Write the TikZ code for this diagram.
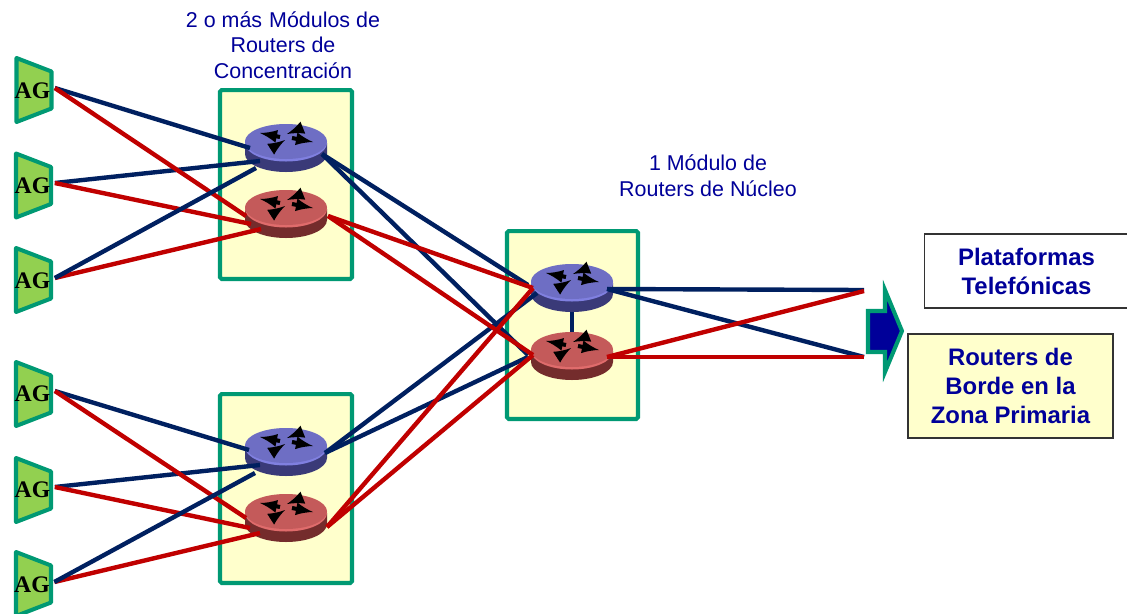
\documentclass[tikz,border=0pt]{standalone}
\usepackage{fontspec}
\setmainfont{Liberation Sans}
\newfontfamily\agfont{Liberation Serif}
\usepackage{tikz}
\definecolor{bordergreen}{HTML}{009973}
\definecolor{boxyellow}{HTML}{FFFFCC}
\definecolor{aggreen}{HTML}{92D050}
\definecolor{labelblue}{HTML}{000099}
\definecolor{linkblue}{HTML}{002060}
\definecolor{linkred}{HTML}{C00000}
\definecolor{rbtop}{HTML}{6E6EC4}
\definecolor{rbrim}{HTML}{8080E0}
\definecolor{rbside}{HTML}{6464B4}
\definecolor{rbdark}{HTML}{3A3A78}
\definecolor{rrtop}{HTML}{C45A5A}
\definecolor{rrrim}{HTML}{E06C6C}
\definecolor{rrside}{HTML}{B04C4C}
\definecolor{rrdark}{HTML}{742C2C}
\tikzstyle{module}=[draw=bordergreen,fill=boxyellow,line width=2.3pt,rounded corners=1pt,inner sep=0pt,minimum width=2.64cm,minimum height=3.78cm]
\tikzstyle{agshape}=[draw=bordergreen,fill=aggreen,line width=2.3pt,line join=round]
\tikzstyle{agtext}=[font=\agfont\bfseries\fontsize{13.5}{14}\selectfont,inner sep=0pt,minimum width=0.88cm,text height=0.4cm,text depth=0pt]
\tikzstyle{routernode}=[inner sep=0pt,minimum width=1.64cm,minimum height=0.96cm]
\tikzstyle{routerarrow}=[draw=black,line width=2.3pt,-latex]
\tikzstyle{bluelink}=[draw=linkblue,line width=2.5pt]
\tikzstyle{redlink}=[draw=linkred,line width=2.5pt]
\tikzstyle{caption}=[font=\fontsize{12.2}{14.6}\selectfont,text=labelblue,align=center,inner sep=0pt]
\tikzstyle{target}=[draw=black!80,line width=0.9pt,font=\bfseries\fontsize{13.6}{16.5}\selectfont,text=labelblue,align=center,inner sep=0pt]
\newcommand{\router}[3]{
    \node[routernode] (#1) at #2 {};
    \begin{scope}[shift={#2}]
        \path[left color=#3dark,middle color=#3side,right color=#3dark] (-41,-5) -- (-41,6) arc[start angle=180,end angle=0,x radius=41,y radius=18] -- (41,-5) -- cycle;
        \path[fill=#3rim] (0,-5) ellipse (41 and 18.5);
        \path[fill=#3top] (0,-6.5) ellipse (41 and 17.5);
        \path[routerarrow] (-6,-11) -- (-26,-15);
        \path[routerarrow] (16,-20) -- (1,-14);
        \path[routerarrow] (6,-10) -- (27,-6);
        \path[routerarrow] (-15,1) -- (-1,-8);
    \end{scope}
}

\begin{document}
\begin{tikzpicture}[x=0.02cm,y=-0.02cm]
    \useasboundingbox (0,0) rectangle (1127,613);
    \foreach \pos/\name in {{(286,184.5)/box1}, {(286,488.5)/box2}}
        \node[module] (\name) at \pos {};
    \node[module,minimum width=2.62cm,minimum height=3.76cm] (box3) at (572.5,325) {};
    \foreach \px/\py/\name/\tone in {286/148/c1b/rb, 286/214/c1r/rr, 286/452/c2b/rb, 286/518/c2r/rr, 572/288/nb/rb, 572/356/nr/rr}
        \router{\name}{(\px,\py)}{\tone};
    \foreach \pos/\name in {{(33.5,185.5)/2}, {(33.5,280)/3}, {(33.5,394)/4}, {(33.5,490)/5}, {(33.5,584)/6}, {(34,90)/1}}
        \path[agshape] \pos ++(-17.5,-32) -- ++(35,13.5) -- ++(0,37) -- ++(-35,13.5) -- cycle;
    \foreach \pos/\name in {{(32.5,88)/ag1}, {(32.5,183)/ag2}, {(32.5,278)/ag3}, {(32.5,391)/ag4}, {(32.5,487)/ag5}, {(32,582)/ag6}}
        \node[agtext] (\name) at \pos {AG};
    \path coordinate (c1b1) at (250,148) coordinate (c1b2) at (260,161) coordinate (c1b3) at (256,168) coordinate (c1bo) at (322,154)
        coordinate (c1r1) at (246,216) coordinate (c1r2) at (251,224) coordinate (c1r3) at (261,229) coordinate (c1ro) at (328,216)
        coordinate (c2b1) at (249,450) coordinate (c2b2) at (260,465) coordinate (c2b3) at (255,473) coordinate (c2bo) at (325,453)
        coordinate (c2r1) at (246,518) coordinate (c2r2) at (250,528) coordinate (c2r3) at (260,533) coordinate (c2ro) at (327,527)
        coordinate (nb1) at (528,285) coordinate (nb2) at (537,293) coordinate (nb3) at (533,288) coordinate (nbo) at (607,289)
        coordinate (nr1) at (528,355) coordinate (nr2) at (528,357) coordinate (nr3) at (533,355) coordinate (nro) at (607,357)
        coordinate (pl1) at (864,290) coordinate (pl2) at (864,357) coordinate (pl3) at (864,291);
    \foreach \source/\dest in {ag1/c1b1, ag2/c1b2, ag4/c2b1, ag5/c2b2}
        \path[bluelink] (\source.east) -- (\dest);
    \foreach \source/\dest in {ag1/c1r1, ag2/c1r2, ag3/c1r3, ag4/c2r1, ag5/c2r2, ag6/c2r3}
        \path[redlink] (\source.east) -- (\dest);
    \foreach \source/\dest in {ag3/c1b3, ag6/c2b3}
        \path[bluelink] (\source.east) -- (\dest);
    \foreach \source/\dest in {c1bo/nb1, c1bo/nr1, c2bo/nb2, c2bo/nr2, nbo/pl1, nbo/pl2}
        \path[bluelink] (\source) -- (\dest);
    \path[bluelink] (nb.south) -- (nr.north);
    \foreach \source/\dest in {c1ro/nb3, c1ro/nr3, c2ro/nb3, c2ro/nr3, nro/pl2, nro/pl3}
        \path[redlink] (\source) -- (\dest);
    \path[draw=bordergreen,fill=labelblue,line width=2.3pt,miter limit=10] (868,311) -- (885,311) -- (885,290) -- (902,331) -- (885,372) -- (885,352) -- (868,352) -- cycle;
    \node[caption] (conc) at (283,45) {2 o más\hspace{0.6pt} Módulos de\\Routers de\\Concentración};
    \node[caption] (nucleo) at (708,175.5) {1 Módulo de\\Routers de Núcleo};
    \node[target,minimum width=4.08cm,minimum height=1.48cm] (plat) at (1026.5,271) {Plataformas\\Telefónicas};
    \node[target,fill=boxyellow,minimum width=4.1cm,minimum height=2.08cm] (borde) at (1010.5,386) {Routers de\\Borde en la\\Zona Primaria};
\end{tikzpicture}
\end{document}
